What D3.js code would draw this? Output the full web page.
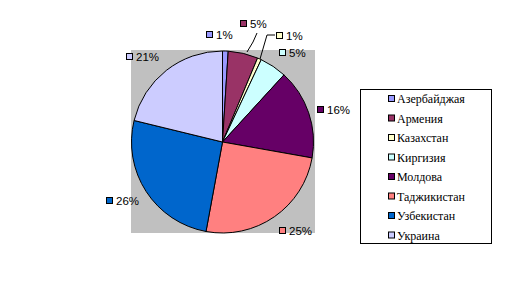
<!DOCTYPE html>
<html><head><meta charset="utf-8">
<script src="https://cdn.jsdelivr.net/npm/d3@7"></script>
<style>body{margin:0;background:#fff}svg{display:block}
.lt{font-family:"Liberation Serif","DejaVu Serif","Times New Roman",serif;font-size:12px}
.dt{font-family:"Liberation Sans",Arial,sans-serif;font-size:11.5px}</style>
</head><body>
<svg id="c" width="516" height="284"></svg>
<script>
const categories = ["Азербайджая","Армения","Казахстан","Киргизия","Молдова","Таджикистан","Узбекистан","Украина"];
const values = [1.0, 5.3, 0.7, 4.8, 16.0, 25.1, 25.9, 21.2];
const labels = ["1%","5%","1%","5%","16%","25%","26%","21%"];
const colors = ["#9999FF","#993366","#FFFFCC","#CCFFFF","#660066","#FF8080","#0066CC","#CCCCFF"];

const svg = d3.select("#c");
const cx = 222.5, cy = 142, r = 91;
svg.append("rect").attr("x",131).attr("y",50).attr("width",184).attr("height",183).attr("fill","#C0C0C0");

const pie = d3.pie().sort(null).value(d=>d);
const arcs = pie(values);
const arc = d3.arc().innerRadius(0).outerRadius(r);
const g = svg.append("g").attr("transform",`translate(${cx},${cy})`);
g.selectAll("path").data(arcs).enter().append("path")
  .attr("d",arc).attr("fill",(d,i)=>colors[i]).attr("stroke","#000").attr("stroke-width",1);

const labelPos = [[206,31],[240,20],[276,32],[279,49],[317,106],[279,227],[106,197],[126,53]];
const leaders = [
  [[257,33],[253,42],[247,52]],
  [[275,35],[267,35],[260,59]]
];
svg.selectAll("polyline.l").data(leaders).enter().append("polyline")
  .attr("points",d=>d.map(p=>p.join(",")).join(" "))
  .attr("fill","none").attr("stroke","#000").attr("stroke-width",1);

const lg = svg.selectAll("g.dl").data(labelPos).enter().append("g");
lg.append("rect").attr("x",d=>d[0]+0.5).attr("y",d=>d[1]+0.5).attr("width",6).attr("height",6)
  .attr("fill",(d,i)=>colors[i]).attr("stroke","#000").attr("stroke-width",1);
lg.append("text").attr("class","dt").attr("x",d=>d[0]+10).attr("y",d=>d[1]+7.5)
  .attr("fill","#000").text((d,i)=>labels[i]);

svg.append("rect").attr("x",360.5).attr("y",89.5).attr("width",131).attr("height",154)
  .attr("fill","#fff").attr("stroke","#000").attr("stroke-width",1);
const ly = d3.scaleLinear().domain([0,7]).range([99,235.5]);
const li = svg.selectAll("g.li").data(categories).enter().append("g");
li.append("rect").attr("x",388.5).attr("y",(d,i)=>ly(i)-3.5).attr("width",6).attr("height",6)
  .attr("fill",(d,i)=>colors[i]).attr("stroke","#000").attr("stroke-width",1);
li.append("text").attr("class","lt").attr("x",397).attr("y",(d,i)=>ly(i)+4)
  .attr("fill","#000").text(d=>d);
</script>
</body></html>
